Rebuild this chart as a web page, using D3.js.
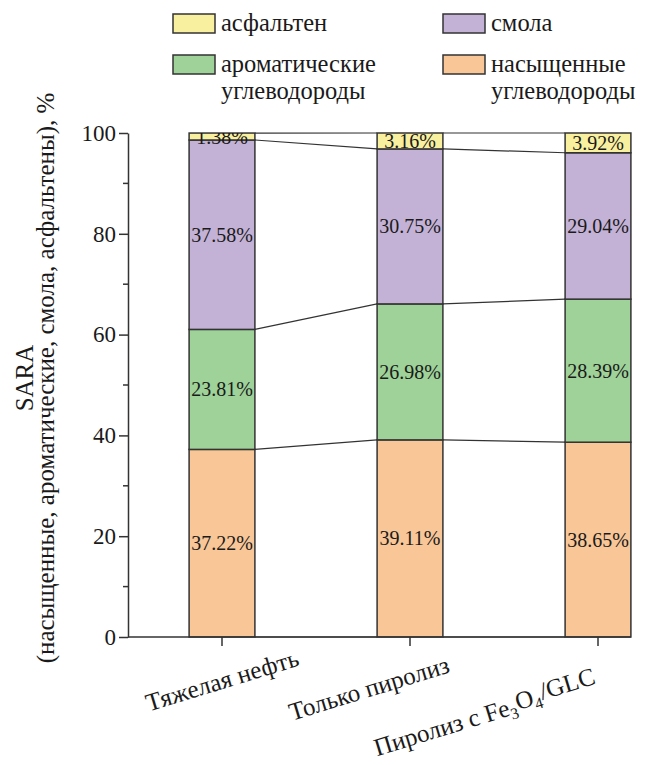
<!DOCTYPE html>
<html>
<head>
<meta charset="utf-8">
<script src="https://cdn.jsdelivr.net/npm/d3@7/dist/d3.min.js"></script>
<style>
  html, body { margin: 0; padding: 0; background: #fff; }
  svg { display: block; }
</style>
</head>
<body>
<svg id="chart" width="651" height="765"></svg>
<script>
// SARA composition (%) for each sample, bottom to top
const samples = ["Тяжелая нефть", "Только пиролиз", "Пиролиз с Fe3O4/GLC"];
const saturates = [37.22, 39.11, 38.65];
const aromatics = [23.81, 26.98, 28.39];
const resins = [37.58, 30.75, 29.04];
const asphaltenes = [1.38, 3.16, 3.92];
const yTicks = [0, 20, 40, 60, 80, 100];
const yMinorTicks = [10, 30, 50, 70, 90];

const seriesNames = ["насыщенные углеводороды", "ароматические углеводороды", "смола", "асфальтен"];
const seriesValues = [saturates, aromatics, resins, asphaltenes];
const seriesColors = ["#f8c697", "#9ed298", "#c4b2d6", "#f8f09f"];

const FONT = '"Liberation Serif"';
const svg = d3.select("#chart");
const stroke = "#333";

const x = d3.scaleBand().domain(samples).range([128, 692]).paddingInner(0.65).paddingOuter(0.325);
const y = d3.scaleLinear().domain([0, 100]).range([637, 133]);

// cumulative stacks per sample
const rows = samples.map((s, i) => {
  const r = { sample: s };
  seriesNames.forEach((n, k) => r[n] = seriesValues[k][i]);
  return r;
});
const stacked = d3.stack().keys(seriesNames)(rows);

// plot clip (labels overflowing the top are cut at the frame)
svg.append("defs").append("clipPath").attr("id", "plotClip")
  .append("rect").attr("x", 128).attr("y", y(100)).attr("width", 520).attr("height", y(0) - y(100));

// connector lines between neighbouring bars at each cumulative level
const levels = stacked.map(layer => layer.map(d => Math.min(d[1], 100)));
levels.push(stacked[0].map(d => d[0]));
const conn = svg.append("g").attr("fill", "none").attr("stroke", stroke).attr("stroke-width", 1.2);
levels.forEach(lv => {
  for (let i = 0; i < samples.length - 1; i++) {
    conn.append("line")
      .attr("x1", x(samples[i]) + x.bandwidth()).attr("y1", y(lv[i]))
      .attr("x2", x(samples[i + 1])).attr("y2", y(lv[i + 1]));
  }
});

// stacked bars
const layers = svg.append("g").selectAll("g").data(stacked).join("g")
  .attr("fill", (d, k) => seriesColors[k]);
layers.selectAll("rect").data(d => d).join("rect")
  .attr("x", d => x(d.data.sample))
  .attr("y", d => y(Math.min(d[1], 100)))
  .attr("width", x.bandwidth())
  .attr("height", d => y(d[0]) - y(Math.min(d[1], 100)))
  .attr("stroke", stroke).attr("stroke-width", 1.5);

// value labels inside segments
const lbl = svg.append("g").attr("clip-path", "url(#plotClip)")
  .attr("fill", "#1a1a1a").attr("text-anchor", "middle");
stacked.forEach((layer, k) => {
  layer.forEach((d, i) => {
    lbl.append("text")
      .style("font-family", FONT).style("font-size", "20px")
      .attr("x", x(samples[i]) + x.bandwidth() / 2)
      .attr("y", y((d[0] + d[1]) / 2))
      .attr("dy", "0.35em")
      .text(seriesValues[k][i].toFixed(2) + "%");
  });
});

// y axis
const yAxis = svg.append("g").attr("transform", "translate(128,0)")
  .call(d3.axisLeft(y).tickValues(yTicks).tickSize(9).tickSizeOuter(0).tickPadding(3).tickFormat(d3.format("d")));
yAxis.selectAll(".tick line").attr("stroke", stroke).attr("stroke-width", 1.5);
yAxis.select(".domain").attr("stroke", stroke).attr("stroke-width", 1.5);
yAxis.selectAll(".tick text").style("font-family", FONT).style("font-size", "23px").attr("fill", "#1a1a1a");
yAxis.selectAll(".minor").data(yMinorTicks).join("line").attr("class", "minor")
  .attr("x1", -5).attr("x2", 0).attr("y1", d => y(d)).attr("y2", d => y(d))
  .attr("stroke", stroke).attr("stroke-width", 1.5);

// x axis
const lastRight = x(samples[samples.length - 1]) + x.bandwidth();
const xAxis = svg.append("g").attr("transform", `translate(0,${y(0)})`);
xAxis.append("line").attr("x1", 128).attr("x2", lastRight).attr("stroke", stroke).attr("stroke-width", 1.5);
xAxis.selectAll(".tk").data(samples).join("line").attr("class", "tk")
  .attr("x1", d => x(d) + x.bandwidth() / 2).attr("x2", d => x(d) + x.bandwidth() / 2)
  .attr("y1", 0).attr("y2", 9).attr("stroke", stroke).attr("stroke-width", 1.5);

// rotated category labels (centre of each label relative to its tick)
const labelShift = [[0, 43], [-41, 51], [-113, 77]];
xAxis.selectAll(".cat").data(samples).join("text").attr("class", "cat")
  .style("font-family", FONT).style("font-size", "25px")
  .attr("fill", "#1a1a1a").attr("text-anchor", "middle")
  .attr("transform", (d, i) => `translate(${x(d) + x.bandwidth() / 2 + labelShift[i][0]},${labelShift[i][1]}) rotate(-17)`)
  .attr("dy", "0.35em")
  .each(function (d) {
    const t = d3.select(this);
    const m = d.match(/^(.*)Fe3O4(.*)$/);
    if (m) {
      t.append("tspan").text(m[1] + "Fe");
      t.append("tspan").style("font-size", "16px").attr("dy", "0.3em").text("3");
      t.append("tspan").attr("dy", "-0.3em").text("O");
      t.append("tspan").style("font-size", "16px").attr("dy", "0.3em").text("4");
      t.append("tspan").attr("dy", "-0.3em").text(m[2]);
    } else {
      t.text(d);
    }
  });

// y axis title
const yTitle = svg.append("g").attr("transform", "translate(0,378) rotate(-90)")
  .attr("fill", "#1a1a1a").attr("text-anchor", "middle");
yTitle.append("text").attr("x", 0).attr("y", 33)
  .style("font-family", FONT).style("font-size", "25px").text("SARA");
yTitle.append("text").attr("x", 0).attr("y", 54)
  .style("font-family", FONT).style("font-size", "25px")
  .text("(насыщенные, ароматические, смола, асфальтены), %");

// legend
const legendItems = [
  { name: ["асфальтен"], color: seriesColors[3], x: 173, y: 14 },
  { name: ["смола"], color: seriesColors[2], x: 443, y: 14 },
  { name: ["ароматические", "углеводороды"], color: seriesColors[1], x: 173, y: 55 },
  { name: ["насыщенные", "углеводороды"], color: seriesColors[0], x: 443, y: 55 }
];
const lg = svg.append("g").attr("fill", "#1a1a1a");
legendItems.forEach(it => {
  lg.append("rect").attr("x", it.x).attr("y", it.y).attr("width", 42).attr("height", 19)
    .attr("fill", it.color).attr("stroke", stroke).attr("stroke-width", 1.5);
  it.name.forEach((line, j) => {
    lg.append("text").attr("x", it.x + 48).attr("y", it.y + 17 + j * 27)
      .style("font-family", FONT).style("font-size", "24.5px").text(line);
  });
});
</script>
</body>
</html>
